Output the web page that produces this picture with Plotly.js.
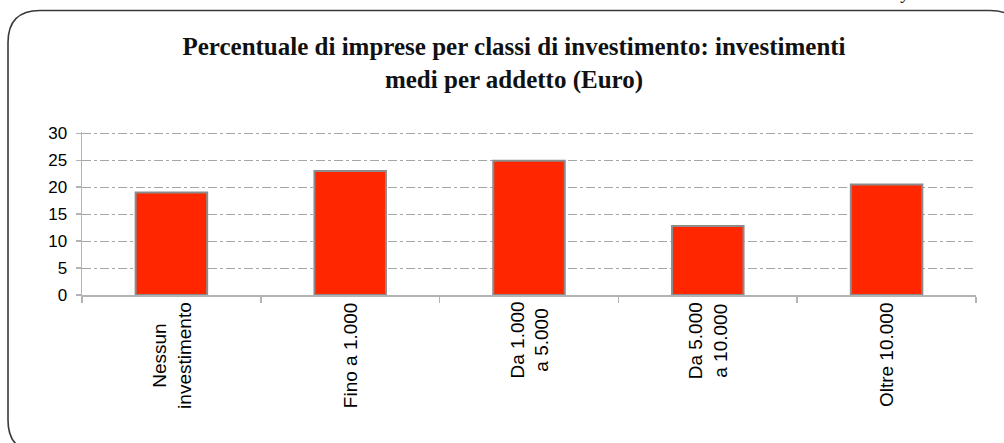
<!DOCTYPE html>
<html>
<head>
<meta charset="utf-8">
<script src="https://cdn.plot.ly/plotly-3.0.1.min.js"></script>
<style>html,body{margin:0;padding:0;background:#fff;}#chart{width:1004px;height:443px;}</style>
</head>
<body>
<div id="chart"></div>
<script>
const categories = ["Nessun<br>investimento", "Fino a 1.000", "Da 1.000<br>a 5.000", "Da 5.000<br>a 10.000", "Oltre 10.000"];
const values = [19.0, 23.0, 24.9, 12.8, 20.5];
const yTicks = [0, 5, 10, 15, 20, 25, 30];
const titleText = "Percentuale di imprese per classi di investimento: investimenti<br>medi per addetto (Euro)";

const W = 1004, H = 443;
const M = {l: 82, r: 28, t: 132, b: 148};
const pw = W - M.l - M.r, ph = H - M.t - M.b;
const px = x => (x - M.l) / pw;
const py = y => (H - M.b - y) / ph;
function P(x, y) { return px(x).toFixed(5) + "," + py(y).toFixed(5); }

// rounded frame (extends past right and bottom edges)
const L = 8, T = 10.5, R = 1022, B = 452, r = 32;
const framePath = "M" + P(L, T + r) + " Q" + P(L, T) + " " + P(L + r, T) +
  " L" + P(R - r, T) + " Q" + P(R, T) + " " + P(R, T + r) +
  " L" + P(R, B - r) + " Q" + P(R, B) + " " + P(R - r, B) +
  " L" + P(L + r, B) + " Q" + P(L, B) + " " + P(L, B - r) + " Z";

const labelAnn = categories.map((c, i) => ({
  x: c, y: 0, xref: "x", yref: "paper", yshift: -5,
  text: c, textangle: -90, showarrow: false,
  xanchor: "center", yanchor: "top", align: "center",
  font: {family: "Liberation Sans, Arial, sans-serif", size: 19, color: "#000"}
}));

labelAnn.push({
  x: 924 / W, y: py(5), xref: "paper", yref: "paper", yanchor: "bottom", xanchor: "center",
  text: "<i>y</i>", showarrow: false,
  font: {family: "Liberation Serif, serif", size: 18, color: "#222"}
});

const data = [{
  type: "bar", x: categories, y: values,
  marker: {color: "#ff2600", line: {color: "#8c8c8c", width: 2}},
  hoverinfo: "x+y"
}];

const layout = {
  width: W, height: H,
  margin: M,
  paper_bgcolor: "#fff", plot_bgcolor: "#fff",
  showlegend: false,
  bargap: 0.6,
  title: {
    text: titleText, x: 514 / W, xref: "container", xanchor: "center",
    y: 1 - 55 / H, yref: "container", yanchor: "middle",
    font: {family: "Liberation Serif, Times New Roman, serif", size: 25, color: "#111", weight: "bold"}
  },
  xaxis: {
    type: "category", categoryarray: categories, categoryorder: "array",
    showticklabels: false, tickson: "boundaries", ticks: "outside", ticklen: 6,
    tickcolor: "#b3b3b3", tickwidth: 1.5,
    showline: true, linecolor: "#b3b3b3", linewidth: 1.5,
    showgrid: false, zeroline: false, fixedrange: true
  },
  yaxis: {
    range: [0, 30.25], tickvals: yTicks, ticktext: yTicks.map(String),
    ticks: "outside", ticklen: 5, tickcolor: "#b3b3b3", tickwidth: 1.5,
    ticklabelstandoff: 5,
    showline: true, linecolor: "#b3b3b3", linewidth: 1.5,
    showgrid: true, gridcolor: "#a6a6a6", gridwidth: 1, griddash: "dashdot",
    zeroline: false, fixedrange: true,
    tickfont: {family: "Liberation Sans, Arial, sans-serif", size: 17, color: "#000"}
  },
  shapes: [{
    type: "path", xref: "paper", yref: "paper", path: framePath,
    line: {color: "#3a3a3a", width: 1.6}, fillcolor: "rgba(0,0,0,0)", layer: "below"
  }],
  annotations: labelAnn
};

Plotly.newPlot("chart", data, layout, {displayModeBar: false, staticPlot: true});
</script>
</body>
</html>
